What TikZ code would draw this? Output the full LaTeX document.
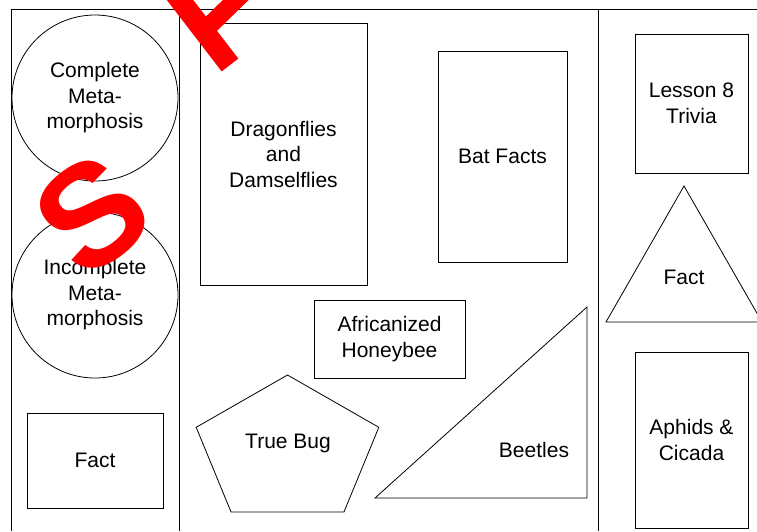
\documentclass[tikz,border=0pt]{standalone}
\usepackage{fontspec}
\setmainfont{Liberation Sans}
\begin{document}
\begin{tikzpicture}[x=1pt,y=-1pt,
    shp/.style={draw,line width=0.8pt},
    topic/.style={shp,align=center,inner sep=0pt,font=\fontsize{21}{25.5}\selectfont},
    caption/.style={align=center,inner sep=0pt,font=\fontsize{21}{25.5}\selectfont},
    wmark/.style={text=red,inner sep=0pt,font=\fontsize{145}{145}\selectfont\bfseries}]
\useasboundingbox (0,0) rectangle (757,531);
% frame
\draw[shp] (11.5,531) -- (11.5,9) -- (757,9);
\foreach \x in {179.5,598.5}
    \draw[shp] (\x,9) -- (\x,531);
% left column
\node[topic,circle,minimum size=166pt] (complete) at (95,98) {Complete\\Meta-\\morphosis};
\node[topic,circle,minimum size=166pt] (incomplete) at (95,295) {Incomplete\\Meta-\\morphosis};
\node[topic,minimum width=136pt,minimum height=95pt] (factL) at (95,460.5) {Fact};
% middle
\node[topic,minimum width=167pt,minimum height=262pt] (dragon) at (283.5,154) {Dragonflies\\and\\Damselflies};
\node[topic,minimum width=129pt,minimum height=211pt] (bat) at (502.5,156.5) {Bat Facts};
\node[topic,minimum width=151pt,minimum height=78pt] (honey) at (389.5,339) {Africanized\\Honeybee};
\draw[shp] (287.5,375) -- (378.8,427.3) -- (344,511.9) -- (231,511.9) -- (196.2,427.3) -- cycle;
\node[caption] (bug) at (288,443) {True Bug};
\draw[shp] (375,498) -- (587,498) -- (587,307) -- cycle;
\node[caption] (beetles) at (534,450) {Beetles};
% right column
\node[topic,minimum width=113pt,minimum height=139pt] (lesson) at (691.5,103.5) {Lesson 8\\Trivia};
\draw[shp] (606,322) -- (684,186) -- (762,322) -- cycle;
\node[caption] (factR) at (684,277) {Fact};
\node[topic,minimum width=113pt,minimum height=176pt] (aphids) at (691.5,440) {Aphids \&\\Cicada};
% watermark
\node[wmark,rotate=38] (wmS) at (92,214) {S};
\draw[red,line width=21pt] (170,-13) -- (230,65);
\draw[red,line width=18pt] (248,-12) -- (205,30);
\end{tikzpicture}
\end{document}
